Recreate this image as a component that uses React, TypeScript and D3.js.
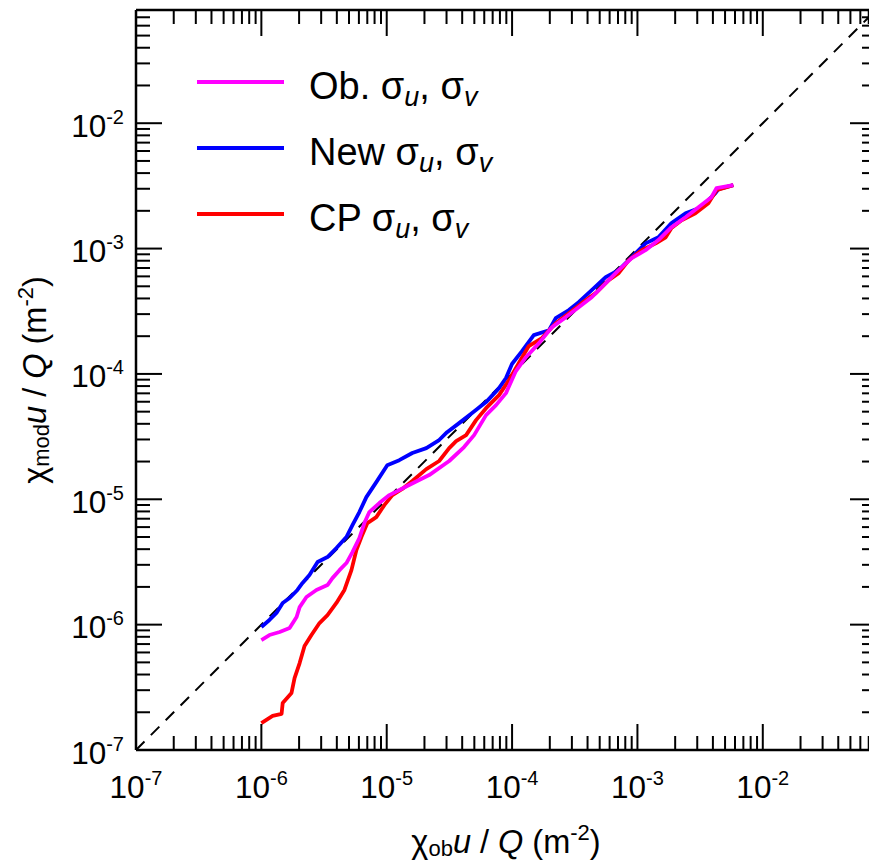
import React from "react";
import * as d3 from "d3";

// ---- data ----
const blueX = [1.0e-6, 1.16e-6, 1.32e-6, 1.48e-6, 1.68e-6, 1.94e-6, 2.13e-6, 2.42e-6, 2.81e-6, 3.37e-6, 3.97e-6, 4.77e-6, 5.33e-6, 6.05e-6, 6.88e-6, 8.26e-6, 1.01e-5, 1.26e-5, 1.6e-5, 2.07e-5, 2.62e-5, 3.03e-5, 3.78e-5, 4.8e-5, 6.2e-5, 7.87e-5, 8.94e-5, 9.98e-5, 1.2e-4, 1.49e-4, 1.97e-4, 2.23e-4, 2.84e-4, 3.4e-4, 4.32e-4, 5.58e-4, 7.08e-4, 9.0e-4, 1.16e-3, 1.47e-3, 1.87e-3, 2.42e-3, 3.24e-3, 4.19e-3, 4.43e-3, 5.82e-3];
const blueY = [9.58e-7, 1.09e-6, 1.24e-6, 1.49e-6, 1.63e-6, 1.89e-6, 2.15e-6, 2.49e-6, 3.16e-6, 3.46e-6, 4.08e-6, 5.0e-6, 6.23e-6, 7.91e-6, 1.04e-5, 1.37e-5, 1.87e-5, 2.05e-5, 2.34e-5, 2.56e-5, 2.97e-5, 3.43e-5, 4.05e-5, 4.87e-5, 5.96e-5, 7.71e-5, 9.26e-5, 1.2e-4, 1.52e-4, 2.04e-4, 2.23e-4, 2.79e-4, 3.23e-4, 3.74e-4, 4.66e-4, 5.92e-4, 6.73e-4, 8.53e-4, 1.1e-3, 1.23e-3, 1.6e-3, 1.91e-3, 2.14e-3, 2.77e-3, 2.98e-3, 3.21e-3];

const obX = [1.0e-6, 1.16e-6, 1.4e-6, 1.68e-6, 1.91e-6, 2.02e-6, 2.29e-6, 2.75e-6, 3.37e-6, 3.69e-6, 4.2e-6, 4.77e-6, 5.33e-6, 6.05e-6, 6.63e-6, 7.27e-6, 8.73e-6, 1.05e-5, 1.51e-5, 2.18e-5, 3.15e-5, 4.14e-5, 4.98e-5, 6.2e-5, 7.45e-5, 8.94e-5, 1.07e-4, 1.29e-4, 1.64e-4, 2.08e-4, 2.69e-4, 3.4e-4, 4.32e-4, 5.58e-4, 7.08e-4, 9.0e-4, 1.16e-3, 1.47e-3, 1.87e-3, 2.42e-3, 3.07e-3, 3.89e-3, 4.27e-3, 5.82e-3];
const obY = [7.54e-7, 8.26e-7, 8.73e-7, 9.4e-7, 1.15e-6, 1.38e-6, 1.66e-6, 1.89e-6, 2.07e-6, 2.35e-6, 2.72e-6, 3.1e-6, 3.79e-6, 4.91e-6, 6.46e-6, 7.91e-6, 9.33e-6, 1.08e-5, 1.3e-5, 1.56e-5, 2.02e-5, 2.61e-5, 3.25e-5, 4.69e-5, 5.64e-5, 7.03e-5, 1.05e-4, 1.36e-4, 1.76e-4, 2.36e-4, 2.84e-4, 3.41e-4, 4.09e-4, 5.3e-4, 6.73e-4, 8.38e-4, 9.7e-4, 1.17e-3, 1.48e-3, 1.78e-3, 2.14e-3, 2.57e-3, 3.03e-3, 3.21e-3];

const cpX = [1.0e-6, 1.23e-6, 1.45e-6, 1.48e-6, 1.74e-6, 1.84e-6, 2.02e-6, 2.21e-6, 2.51e-6, 2.91e-6, 3.37e-6, 3.97e-6, 4.6e-6, 5.23e-6, 5.73e-6, 6.28e-6, 7.01e-6, 8.26e-6, 9.57e-6, 1.11e-5, 1.33e-5, 1.6e-5, 2.07e-5, 2.62e-5, 3.15e-5, 3.58e-5, 4.3e-5, 5.16e-5, 6.2e-5, 7.87e-5, 9.45e-5, 1.13e-4, 1.36e-4, 1.73e-4, 2.23e-4, 2.84e-4, 3.6e-4, 4.65e-4, 5.9e-4, 7.08e-4, 8.51e-4, 1.08e-3, 1.4e-3, 1.68e-3, 1.87e-3, 2.25e-3, 2.9e-3, 3.68e-3, 4.27e-3, 5.82e-3];
const cpY = [1.64e-7, 1.87e-7, 1.94e-7, 2.37e-7, 2.85e-7, 3.75e-7, 4.94e-7, 6.75e-7, 8.26e-7, 1.03e-6, 1.19e-6, 1.49e-6, 1.89e-6, 2.72e-6, 3.94e-6, 5.0e-6, 6.46e-6, 7.21e-6, 8.99e-6, 1.08e-5, 1.21e-5, 1.4e-5, 1.74e-5, 2.02e-5, 2.56e-5, 2.91e-5, 3.25e-5, 4.28e-5, 5.33e-5, 6.78e-5, 8.93e-5, 1.22e-4, 1.67e-4, 1.93e-4, 2.54e-4, 3.05e-4, 3.67e-4, 4.41e-4, 5.6e-4, 6.37e-4, 8.07e-4, 9.7e-4, 1.1e-3, 1.23e-3, 1.46e-3, 1.68e-3, 1.91e-3, 2.3e-3, 2.92e-3, 3.21e-3];

const majorExponents = [-7, -6, -5, -4, -3, -2];
const axisDomain = [1e-7, 0.08];

const legendItems = [
  { name: "Ob.", color: "#ff00ff" },
  { name: "New", color: "#0000ff" },
  { name: "CP", color: "#ff0000" },
];

const W = 869;
const H = 863;
const L = 136, T = 10, B = 750;
const FONT = "'Liberation Sans', Arial, Helvetica, sans-serif";

export default function App() {
  const size = B - T;
  const R = L + size;
  const x = d3.scaleLog().domain(axisDomain).range([L, R]);
  const y = d3.scaleLog().domain(axisDomain).range([B, T]);

  const ticks: { v: number; major: boolean }[] = [];
  for (let e = -7; e <= -2; e++) {
    for (let m = 1; m <= 9; m++) {
      const v = m * Math.pow(10, e);
      if (v >= axisDomain[0] * 0.999 && v <= axisDomain[1] * 1.001) ticks.push({ v, major: m === 1 });
    }
  }
  const MAJ = 26, MIN = 14;

  const line = (xs: number[], ys: number[]) =>
    d3.line<number>().x((_, i) => x(xs[i])).y((_, i) => y(ys[i]))(xs.map((_, i) => i)) || "";

  const series = [
    { xs: blueX, ys: blueY, color: "#0000ff" },
    { xs: cpX, ys: cpY, color: "#ff0000" },
    { xs: obX, ys: obY, color: "#ff00ff" },
  ];

  return (
    <svg width={W} height={H} viewBox={`0 0 ${W} ${H}`} style={{ position: "absolute", left: 0, top: 0, background: "#fff", display: "block" }} fontFamily={FONT}>
      <defs>
        <clipPath id="plot">
          <rect x={L} y={T} width={size} height={size} />
        </clipPath>
      </defs>
      {/* 1:1 line */}
      <line x1={x(axisDomain[0])} y1={y(axisDomain[0])} x2={x(axisDomain[1])} y2={y(axisDomain[1])}
        stroke="#000" strokeWidth={2} strokeDasharray="12,9" clipPath="url(#plot)" />
      {/* series */}
      <g clipPath="url(#plot)">
        {series.map((s, i) => (
          <path key={i} d={line(s.xs, s.ys)} fill="none" stroke={s.color} strokeWidth={3.8} strokeLinejoin="round" />
        ))}
      </g>
      {/* frame */}
      <g stroke="#000" strokeWidth={2.5}>
        <line x1={L} x2={L} y1={T} y2={B} />
        <line x1={L} x2={R} y1={T} y2={T} />
        <line x1={L} x2={R} y1={B} y2={B} />
        <line x1={R} x2={R} y1={T} y2={B} />
      </g>
      {/* ticks */}
      {ticks.map((t, i) => {
        const len = t.major ? MAJ : MIN;
        const px = x(t.v), py = y(t.v);
        return (
          <g key={i} stroke="#000" strokeWidth={2}>
            <line x1={px} x2={px} y1={B} y2={B - len} />
            <line x1={px} x2={px} y1={T} y2={T + len} />
            <line y1={py} y2={py} x1={L} x2={L + len} />
            <line y1={py} y2={py} x1={R} x2={R - len} />
          </g>
        );
      })}
      {/* tick labels */}
      {majorExponents.map((e) => (
        <text key={"x" + e} x={x(Math.pow(10, e))} y={798} textAnchor="middle" fontSize={31.5} fill="#000">
          10<tspan fontSize={20} dy={-13}>{String(e)}</tspan>
        </text>
      ))}
      {majorExponents.map((e) => (
        <text key={"y" + e} x={124} y={y(Math.pow(10, e)) + 13.5} textAnchor="end" fontSize={31.5} fill="#000">
          10<tspan fontSize={20} dy={-13}>{String(e)}</tspan>
        </text>
      ))}
      {/* axis titles */}
      <text x={506} y={853} textAnchor="middle" fontSize={32.5} fill="#000">
        χ<tspan fontSize={22} dy={3}>ob</tspan><tspan dy={-3} fontStyle="italic">u</tspan> / <tspan fontStyle="italic">Q</tspan> (m<tspan fontSize={22} dy={-13}>-2</tspan><tspan dy={13}>)</tspan>
      </text>
      <text transform="translate(46,380) rotate(-90)" textAnchor="middle" fontSize={32.5} fill="#000">
        χ<tspan fontSize={22} dy={3}>mod</tspan><tspan dy={-3} fontStyle="italic">u</tspan> / <tspan fontStyle="italic">Q</tspan> (m<tspan fontSize={22} dy={-13}>-2</tspan><tspan dy={13}>)</tspan>
      </text>
      {/* legend */}
      {legendItems.map((it, i) => {
        const ly = 82 + i * 66;
        return (
          <g key={it.name}>
            <line x1={197} x2={284} y1={ly} y2={ly} stroke={it.color} strokeWidth={3.8} />
            <text x={309} y={ly + 17} fontSize={38} fill="#000">
              {it.name} σ<tspan fontStyle="italic" fontSize={27} dy={7}>u</tspan><tspan dy={-7}>, σ</tspan><tspan fontStyle="italic" fontSize={27} dy={7}>v</tspan>
            </text>
          </g>
        );
      })}
    </svg>
  );
}
